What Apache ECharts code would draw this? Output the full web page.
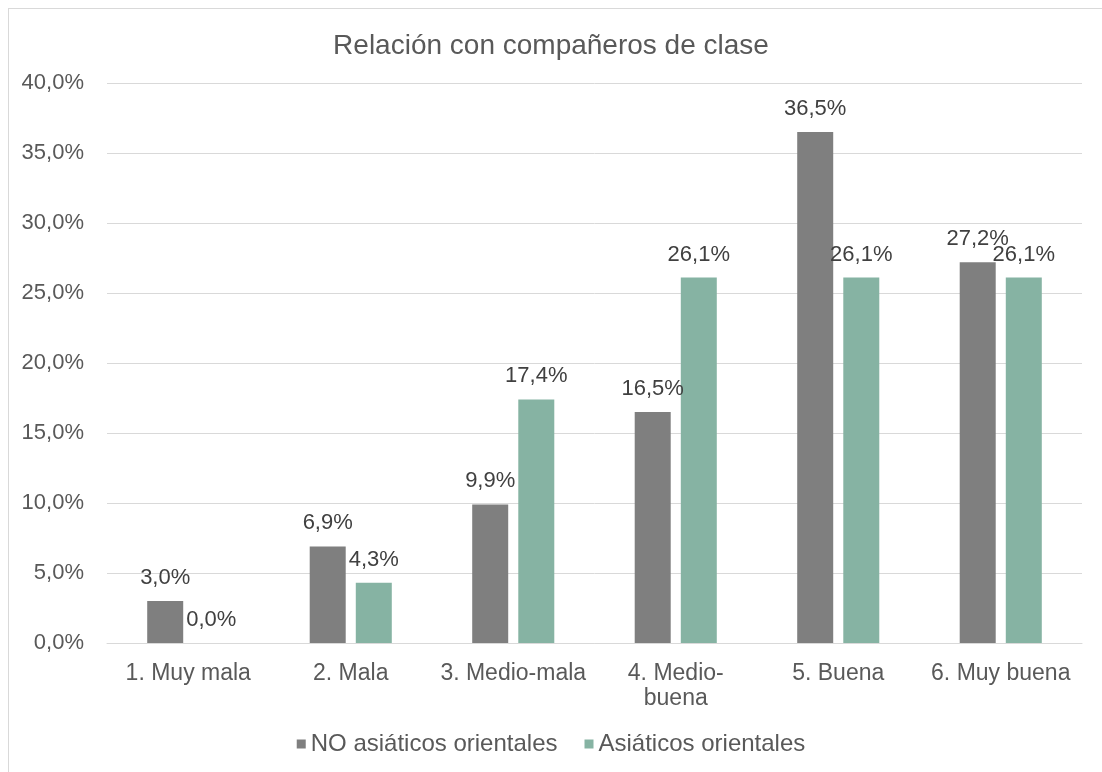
<!DOCTYPE html>
<html><head><meta charset="utf-8">
<script src="https://cdn.jsdelivr.net/npm/echarts@6/dist/echarts.min.js"></script>
<style>
html,body{margin:0;padding:0;background:#fff;}
#frame{position:absolute;left:8px;top:8px;width:1100px;height:770px;border:1px solid #d9d9d9;box-sizing:border-box;}
#c{position:absolute;left:0;top:0;width:1102px;height:772px;}
</style></head>
<body><div id="frame"></div><div id="c"></div>
<script>
const categories = ['1. Muy mala','2. Mala','3. Medio-mala','4. Medio-buena','5. Buena','6. Muy buena'];
const noAsiaticos = [3.0, 6.9, 9.9, 16.5, 36.5, 27.2];
const asiaticos = [0.0, 4.3, 17.4, 26.1, 26.1, 26.1];
const seriesNames = ['NO asiáticos orientales','Asiáticos orientales'];
const yTicks = [0, 5, 10, 15, 20, 25, 30, 35, 40];
const fmt = v => v.toFixed(1).replace('.', ',') + '%';
const chart = echarts.init(document.getElementById('c'));
const font = 'Liberation Sans, Arial, Helvetica, sans-serif';
const labelCfg = {show:true, position:'top', formatter:p=>fmt(p.value), color:'#404040', fontSize:22, fontFamily:font, distance:12};
chart.setOption({
  animation:false,
  title:{text:'Relación con compañeros de clase', left:'center', top:27, textStyle:{color:'#595959', fontSize:28, fontWeight:'normal', fontFamily:font}},
  legend:{top:727, left:'center', itemWidth:9, itemHeight:9, itemGap:27, textStyle:{color:'#595959', fontSize:24, fontFamily:font}, icon:'rect', data:seriesNames},
  grid:{left:107, right:20, top:83, bottom:129},
  xAxis:{type:'category', data:categories, axisTick:{show:false}, axisLine:{lineStyle:{color:'#d9d9d9'}},
    axisLabel:{color:'#595959', fontSize:23, fontFamily:font, margin:18, interval:0, lineHeight:25,
      formatter:v=>v==='4. Medio-buena' ? '4. Medio-\nbuena' : v}},
  yAxis:{type:'value', min:yTicks[0], max:yTicks[yTicks.length-1], interval:yTicks[1]-yTicks[0],
    axisLabel:{color:'#595959', fontSize:22, fontFamily:font, margin:23, formatter:v=>fmt(v)},
    splitLine:{lineStyle:{color:'#d9d9d9'}}, axisLine:{show:false}},
  series:[
    {name:seriesNames[0], type:'bar', data:noAsiaticos, itemStyle:{color:'#7f7f7f'}, barWidth:36, barGap:'28%', label:labelCfg},
    {name:seriesNames[1], type:'bar', data:asiaticos, itemStyle:{color:'#86b3a3'}, barWidth:36, label:labelCfg}
  ]
});
</script></body></html>
